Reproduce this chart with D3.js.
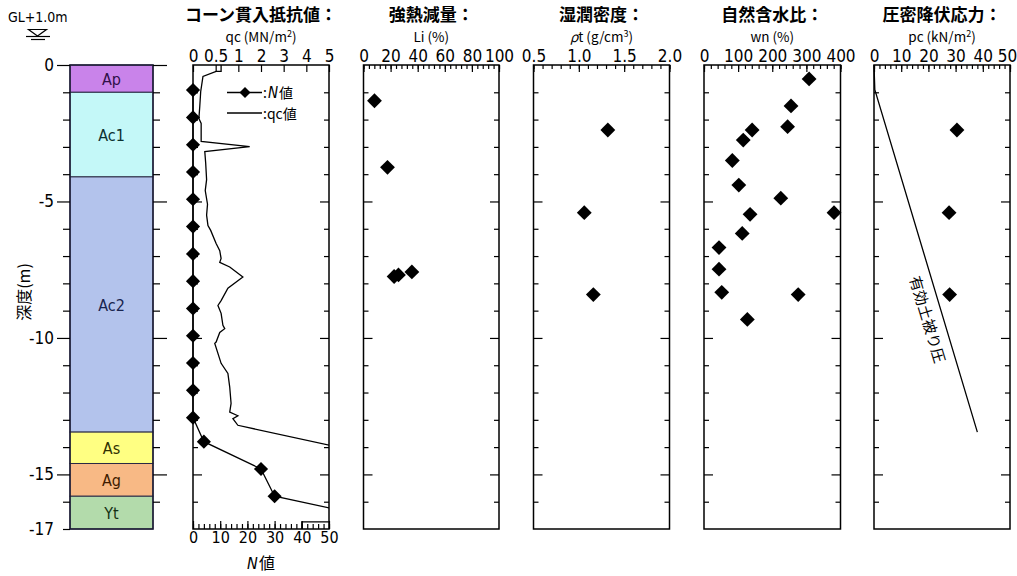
<!DOCTYPE html>
<html><head><meta charset="utf-8">
<script src="https://cdn.jsdelivr.net/npm/d3@7"></script>
<style>
body{margin:0;background:#fff;}
svg{display:block;background:#fff;}
.cn{font-stretch:condensed;}
</style></head>
<body><svg id="c" width="1017" height="576"></svg>
<script>
// ---------------- data ----------------
const layerNames  = ["Ap","Ac1","Ac2","As","Ag","Yt"];
const layerTop    = [0, 1.0, 4.1, 13.45, 14.6, 15.8];
const layerBottom = [1.0, 4.1, 13.45, 14.6, 15.8, 17.0];

const depthTickValues = [0, 5, 10, 15, 17];
const depthTickLabels = ["0", "-5", "-10", "-15", "-17"];

// N value (SPT)
const nDepth = [0.92,1.92,2.92,3.92,4.92,5.92,6.92,7.92,8.92,9.92,10.92,11.92,12.92,13.8,14.8,15.8,16.44];
const nValue = [0,0,0,0,0,0,0,0,0,0,0,0,0,4,25,30,60];

// cone resistance qc (MN/m2)
const qcDepth = [0,0.23,0.23,0.42,0.97,1.5,1.96,2.14,2.8,2.99,3.17,3.6,4.2,4.6,5.1,5.5,5.88,6.06,6.54,6.8,7.09,7.23,7.4,7.77,8.18,8.63,8.81,9.1,9.54,9.66,9.8,10.15,10.2,10.93,11.3,11.8,12.4,12.72,12.85,12.96,13.2,14.2,16.74,16.74,17.0];
const qcValue = [0.62,0.62,0.51,0.22,0.17,0.15,0.13,0.18,0.18,1.5,0.26,0.28,0.30,0.27,0.32,0.30,0.33,0.39,0.51,0.59,0.62,0.59,0.81,1.2,0.77,0.62,0.55,0.62,0.66,0.70,0.59,0.51,0.48,0.62,0.77,0.81,0.84,0.81,0.99,0.88,0.99,6.5,6.5,3.8,3.8];

const qcTickValues = [0,0.5,1,2,3,4,5];
const qcTickLabels = ["0","0.5","1","2","3","4","5"];
const nTickValues  = [0,10,20,30,40,50];

// ignition loss Li (%)
const liDepth = [1.31,3.75,7.75,7.69,7.58];
const liValue = [8.1,17.7,22.6,25.8,35.7];
const liTickValues = [0,20,40,60,80,100];

// wet density rho_t (g/cm3)
const rhoDepth = [2.38,5.41,8.41];
const rhoValue = [1.32,1.06,1.16];
const rhoTickValues = [0.5,1.0,1.5,2.0];
const rhoTickLabels = ["0.5","1.0","1.5","2.0"];

// natural water content wn (%)
const wnDepth = [0.51,1.5,2.26,2.38,2.75,3.5,4.4,4.88,5.41,5.47,6.17,6.69,7.48,8.33,8.41,9.32];
const wnValue = [308,255,245,141,115,83,102,225,381,135,112,44,44,52,276,127];
const wnTickValues = [0,100,200,300,400];

// consolidation yield stress pc (kN/m2)
const pcDepth = [2.38,5.41,8.41];
const pcValue = [30.5,27.6,27.8];
const pcTickValues = [0,10,20,30,40,50];

// effective overburden pressure line
const overDepth = [0,0.9,13.45];
const overValue = [0,0.3,38];
const overLabel = "有効土被り圧";

const titles    = ["コーン貫入抵抗値：","強熱減量：","湿潤密度：","自然含水比：","圧密降伏応力："];

// ---------------- layout ----------------
const svg = d3.select("#c");
const Y0 = 65, Y1 = 529;
const y = d3.scaleLinear().domain([0,17]).range([Y0,Y1]);
const numFont = '"DejaVu Sans Condensed","DejaVu Sans",sans-serif';
const jpFont  = '"Noto Sans CJK JP","Noto Sans CJK SC",sans-serif';

const panelX = [[193,329],[363.5,499],[533.5,669.5],[704,840.5],[874,1010]];
const colX0 = 70, colX1 = 153;

const layerFill = ["#c983ea","#c4f8f8","#b3c3ec","#ffff82","#f8b985","#b3dbab"];
const layerInk  = ["#301048","#0c3030","#18244e","#303000","#401c00","#133013"];

// chained text pieces (separate elements, italic where needed)
function chain(x, yb, pieces, anchorMiddle){
  const els = pieces.map(p=>svg.append("text").attr("y",yb)
    .attr("font-family",p.it?numFont:jpFont).attr("font-size",p.fs)
    .attr("font-style",p.it?"italic":"normal").text(p.t));
  const w = els.map(e=>e.node().getComputedTextLength());
  const total = d3.sum(w) + (els.length-1)*1;
  let cx = anchorMiddle ? x - total/2 : x;
  els.forEach((e,i)=>{ e.attr("x",cx); cx += w[i] + 1; });
}

// ---------- GL mark ----------
svg.append("text").attr("x",8).attr("y",22).attr("class","cn")
  .attr("font-family",numFont).attr("font-size",14).text("GL+1.0m");
svg.append("path").attr("d","M28.5,29.5 L46.5,29.5 L37.5,36 Z")
  .attr("fill","none").attr("stroke","#000").attr("stroke-width",1.2);
svg.append("line").attr("x1",26).attr("x2",50).attr("y1",36.5).attr("y2",36.5).attr("stroke","#000").attr("stroke-width",1.2);
svg.append("line").attr("x1",31).attr("x2",45).attr("y1",39.5).attr("y2",39.5).attr("stroke","#000").attr("stroke-width",1.2);

// ---------- soil column ----------
const layers = layerNames.map((n,i)=>({name:n, top:layerTop[i], bot:layerBottom[i], i}));
const lg = svg.append("g");
lg.selectAll("rect").data(layers).join("rect")
  .attr("x",colX0).attr("width",colX1-colX0)
  .attr("y",d=>y(d.top)).attr("height",d=>y(d.bot)-y(d.top))
  .attr("fill",d=>layerFill[d.i]).attr("stroke","#2a2a44").attr("stroke-width",1);
lg.selectAll("text").data(layers).join("text")
  .attr("x",(colX0+colX1)/2).attr("y",d=>(y(d.top)+y(d.bot))/2+6)
  .attr("text-anchor","middle").attr("font-family",numFont).attr("class","cn").attr("font-size",16)
  .attr("fill",d=>layerInk[d.i]).text(d=>d.name);
lg.append("rect").attr("x",colX0).attr("y",Y0).attr("width",colX1-colX0).attr("height",Y1-Y0)
  .attr("fill","none").attr("stroke","#1a1a33").attr("stroke-width",1.5);

// depth axis (left of column)
const minorDepth = d3.range(1,17).filter(v=>v%5!==0);
function styleAxis(g, fs){ g.select(".domain").remove(); g.selectAll("line").attr("stroke","#000").attr("stroke-width",1.2); g.attr("font-family",numFont).attr("font-size",fs||17).attr("fill","#000").attr("class","cn"); g.selectAll("text").attr("fill","#000"); return g;}
styleAxis(svg.append("g").attr("transform",`translate(${colX0},0)`)
  .call(d3.axisLeft(y).tickValues(minorDepth.concat([17])).tickSize(7).tickFormat("")));
styleAxis(svg.append("g").attr("transform",`translate(${colX0},0)`)
  .call(d3.axisLeft(y).tickValues([0,5,10,15]).tickSize(13).tickFormat("")));
const dl = styleAxis(svg.append("g").attr("transform",`translate(${colX0},0)`)
  .call(d3.axisLeft(y).tickValues(depthTickValues).tickSize(13).tickPadding(3)
  .tickFormat((d,i)=>depthTickLabels[i])));
dl.selectAll("line").remove();
styleAxis(svg.append("g").attr("transform",`translate(${colX1},0)`)
  .call(d3.axisRight(y).tickValues(minorDepth).tickSize(7).tickFormat("")));
styleAxis(svg.append("g").attr("transform",`translate(${colX1},0)`)
  .call(d3.axisRight(y).tickValues([0,5,10,15]).tickSize(14).tickFormat("")));

svg.append("text").attr("transform","translate(30,292) rotate(-90)")
  .attr("text-anchor","middle").attr("font-family",jpFont).attr("font-size",16).text("深度(m)");

// ---------- panel helpers ----------
function frame(p){
  svg.append("rect").attr("x",p[0]).attr("y",Y0).attr("width",p[1]-p[0]).attr("height",Y1-Y0)
    .attr("fill","#fff").attr("stroke","#000").attr("stroke-width",1.5);
  styleAxis(svg.append("g").attr("transform",`translate(${p[0]},0)`)
    .call(d3.axisRight(y).tickValues(minorDepth).tickSize(5).tickFormat("")));
  styleAxis(svg.append("g").attr("transform",`translate(${p[0]},0)`)
    .call(d3.axisRight(y).tickValues([5,10,15]).tickSize(9).tickFormat("")));
  styleAxis(svg.append("g").attr("transform",`translate(${p[1]},0)`)
    .call(d3.axisLeft(y).tickValues(minorDepth).tickSize(5).tickFormat("")));
  styleAxis(svg.append("g").attr("transform",`translate(${p[1]},0)`)
    .call(d3.axisLeft(y).tickValues([5,10,15]).tickSize(9).tickFormat("")));
}
function topAxis(scale, major, labels, minor){
  if(minor) styleAxis(svg.append("g").attr("transform",`translate(0,${Y0})`)
    .call(d3.axisTop(scale).tickValues(minor).tickSize(-4).tickFormat("")));
  return styleAxis(svg.append("g").attr("transform",`translate(0,${Y0})`)
    .call(d3.axisTop(scale).tickValues(major).tickSize(-7).tickPadding(3)
      .tickFormat((d,i)=>labels?labels[i]:String(d))), 17);
}
function titleText(p, t, sub){
  const cx=(p[0]+p[1])/2;
  svg.append("text").attr("x",cx).attr("y",21).attr("text-anchor","middle")
    .attr("font-family",jpFont).attr("font-size",17).attr("font-weight",700).text(t);
  const s = svg.append("text").attr("x",cx).attr("y",42).attr("text-anchor","middle")
    .attr("font-family",jpFont).attr("font-size",13.5);
  sub(s);
}
function diamonds(g, xs, ys, xScale, size){
  g.selectAll(null).data(xs.map((v,i)=>({v,d:ys[i]}))).join("path")
    .attr("d", d3.symbol().type(d3.symbolSquare).size(size||110)())
    .attr("transform",d=>`translate(${xScale(d.v)},${y(d.d)}) rotate(45)`)
    .attr("fill","#000");
}

// ---------- panel 1 : qc / N ----------
const p1 = panelX[0];
frame(p1);
const qcX = d3.scaleLinear().domain([0,1,5]).range([p1[0], p1[0]+(p1[1]-p1[0])/3, p1[1]]);
const nX  = d3.scaleLinear().domain([0,50]).range(p1);
topAxis(qcX, qcTickValues, qcTickLabels, null);
// bottom N axis
styleAxis(svg.append("g").attr("transform",`translate(0,${Y1})`)
  .call(d3.axisBottom(nX).tickValues(d3.range(0,51,2)).tickSize(-5).tickFormat("")));
styleAxis(svg.append("g").attr("transform",`translate(0,${Y1})`)
  .call(d3.axisBottom(nX).tickValues(nTickValues).tickSize(-8).tickPadding(2).tickFormat(d3.format("d"))), 16)
  .selectAll("text").attr("dy","0.75em");
titleText(p1, titles[0], s=>{ s.append("tspan").text("qc (MN/m"); s.append("tspan").attr("font-size",9).attr("dy",-5).text("2"); s.append("tspan").attr("dy",5).text(")"); });

svg.append("defs").append("clipPath").attr("id","clip1").append("rect")
  .attr("x",p1[0]-12).attr("y",Y0-10).attr("width",p1[1]-p1[0]+12).attr("height",Y1-Y0+10);
const g1 = svg.append("g").attr("clip-path","url(#clip1)");
g1.append("path").datum(qcValue.map((v,i)=>({v,d:qcDepth[i]})))
  .attr("d", d3.line().x(d=>qcX(d.v)).y(d=>y(d.d)))
  .attr("fill","none").attr("stroke","#000").attr("stroke-width",1.3);
g1.append("path").datum(nValue.map((v,i)=>({v,d:nDepth[i]})))
  .attr("d", d3.line().x(d=>nX(d.v)).y(d=>y(d.d)))
  .attr("fill","none").attr("stroke","#000").attr("stroke-width",1.3);
diamonds(g1, nValue, nDepth, nX, 100);

// legend
const leg = svg.append("g");
leg.append("line").attr("x1",227).attr("x2",262).attr("y1",92.5).attr("y2",92.5).attr("stroke","#000").attr("stroke-width",1.3);
leg.append("path").attr("d",d3.symbol().type(d3.symbolSquare).size(60)()).attr("transform","translate(245,92.5) rotate(45)");
chain(263, 97.5, [{t:":",fs:14},{t:"N",fs:15,it:true},{t:"値",fs:14}], false);
leg.append("line").attr("x1",227).attr("x2",262).attr("y1",113).attr("y2",113).attr("stroke","#000").attr("stroke-width",1.3);
svg.append("text").attr("x",263).attr("y",118.5).attr("font-family",jpFont).attr("font-size",14).text(":qc値");

chain((p1[0]+p1[1])/2, 569, [{t:"N",fs:16,it:true},{t:"値",fs:16}], true);

// ---------- panel 2 : Li ----------
const p2 = panelX[1];
frame(p2);
const liX = d3.scaleLinear().domain([0,100]).range(p2);
topAxis(liX, liTickValues, null, d3.range(0,101,4));
titleText(p2, titles[1], s=>s.text("Li (%)"));
diamonds(svg.append("g"), liValue, liDepth, liX);

// ---------- panel 3 : rho ----------
const p3 = panelX[2];
frame(p3);
const rhoX = d3.scaleLinear().domain([0.5,2.0]).range(p3);
topAxis(rhoX, rhoTickValues, rhoTickLabels, d3.range(5,21).map(v=>v/10));
titleText(p3, titles[2], s=>{ s.append("tspan").attr("font-style","italic").text("ρ"); s.append("tspan").text("t (g/cm"); s.append("tspan").attr("font-size",9).attr("dy",-5).text("3"); s.append("tspan").attr("dy",5).text(")"); });
diamonds(svg.append("g"), rhoValue, rhoDepth, rhoX);

// ---------- panel 4 : wn ----------
const p4 = panelX[3];
frame(p4);
const wnX = d3.scaleLinear().domain([0,400]).range(p4);
topAxis(wnX, wnTickValues, null, d3.range(0,401,20));
titleText(p4, titles[3], s=>s.text("wn (%)"));
diamonds(svg.append("g"), wnValue, wnDepth, wnX);

// ---------- panel 5 : pc ----------
const p5 = panelX[4];
frame(p5);
const pcX = d3.scaleLinear().domain([0,50]).range(p5);
const a5 = topAxis(pcX, pcTickValues, null, d3.range(0,51,2));
a5.selectAll("text").filter(d=>d===50).attr("dx",-3);
titleText(p5, titles[4], s=>{ s.append("tspan").text("pc (kN/m"); s.append("tspan").attr("font-size",9).attr("dy",-5).text("2"); s.append("tspan").attr("dy",5).text(")"); });
svg.append("path").datum(overValue.map((v,i)=>({v,d:overDepth[i]})))
  .attr("d", d3.line().x(d=>pcX(d.v)).y(d=>y(d.d)))
  .attr("fill","none").attr("stroke","#000").attr("stroke-width",1.3);
diamonds(svg.append("g"), pcValue, pcDepth, pcX);
// label along the line
{
  const a = {x:pcX(overValue[1]), y:y(overDepth[1])}, b = {x:pcX(overValue[2]), y:y(overDepth[2])};
  const ang = Math.atan2(b.y-a.y, b.x-a.x)*180/Math.PI;
  const ly = 315, t = (ly-a.y)/(b.y-a.y), lx = a.x + t*(b.x-a.x);
  svg.append("text").attr("transform",`translate(${lx},${ly}) rotate(${ang})`)
    .attr("text-anchor","middle").attr("y",21)
    .attr("font-family",jpFont).attr("font-size",15).text(overLabel);
}
</script>
</body></html>
